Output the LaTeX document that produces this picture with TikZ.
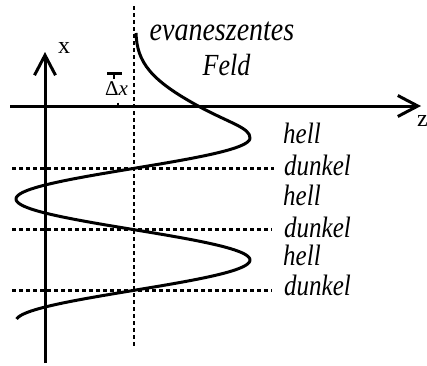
\documentclass[tikz,border=0pt]{standalone}
\usepackage{fontspec}
\setmainfont{Liberation Serif}
\usetikzlibrary{arrows.meta}
\begin{document}
\begin{tikzpicture}[x=1pt,y=-1pt,
  axis/.style={line width=3pt, -{Straight Barb[length=20pt,width=21pt]}},
  guide/.style={line width=2.3pt, dash pattern=on 4pt off 3pt},
  wave/.style={line width=3pt, line join=round},
  mark line/.style={line width=3pt},
  lbl/.style={font=\fontsize{25}{25}\selectfont\itshape, yscale=1.18, inner sep=0pt, anchor=base west},
  big/.style={font=\fontsize{28}{28}\selectfont\itshape, yscale=1.18, inner sep=0pt, anchor=base},
  axlbl/.style={font=\fontsize{24}{24}\selectfont, inner sep=0pt, anchor=base west}]
\useasboundingbox (0,0) rectangle (427,365);
% coordinates
\coordinate (xb) at (45,363);
\coordinate (xt) at (45,52);
\coordinate (zl) at (10,106);
\coordinate (zr) at (421,106);
\coordinate (vt) at (134,6);
\coordinate (vb) at (134,348);
\coordinate (d1l) at (12,168.5);
\coordinate (d1r) at (274,168.5);
\coordinate (d2l) at (12,229.5);
\coordinate (d2r) at (272,229.5);
\coordinate (d3l) at (12,290.5);
\coordinate (d3r) at (272,290.5);
\coordinate (tb1) at (107,73);
\coordinate (tb2) at (122,73);
\coordinate (ts1) at (114,73);
\coordinate (ts2) at (114,79);
\coordinate (tk1) at (118,102.5);
\coordinate (tk2) at (118,106);
% guides
\draw[guide] (vt) -- (vb);
\draw[guide] (d1l) -- (d1r);
\draw[guide] (d2l) -- (d2r);
\draw[guide] (d3l) -- (d3r);
% axes
\draw[axis] (xb) -- (xt);
\draw[axis] (zl) -- (zr);
% Delta x marker
\draw[mark line] (tb1) -- (tb2);
\draw[line width=2.4pt] (ts1) -- (ts2);
\draw[line width=2.2pt] (tk1) -- (tk2);
% wave
\draw[wave] (136,33) .. controls (137,62) and (150,80) .. (200,107)
  .. controls (232,124) and (250,128) .. (250,138)
  -- plot[domain=138:319, samples=160] ({133+117*cos((\x-138)*2.95082)}, {\x});
% labels
\node[axlbl] (xl) at (58,53) {x};
\node[axlbl] (zlbl) at (417,126) {z};
\node[font=\fontsize{21}{21}\selectfont, inner sep=0pt, anchor=base west] (dx) at (105,95) {Δ\textit{x}};
\node[big] (ev) at (222,40) {evaneszentes};
\node[big, font=\fontsize{26}{26}\selectfont\itshape] (fe) at (226.5,75) {Feld};
\node[lbl] (h1) at (283,143) {hell};
\node[lbl] (k1) at (284,175) {dunkel};
\node[lbl] (h2) at (283,205) {hell};
\node[lbl] (k2) at (284,237) {dunkel};
\node[lbl] (h3) at (283,265) {hell};
\node[lbl] (k3) at (284,295) {dunkel};
\end{tikzpicture}
\end{document}
